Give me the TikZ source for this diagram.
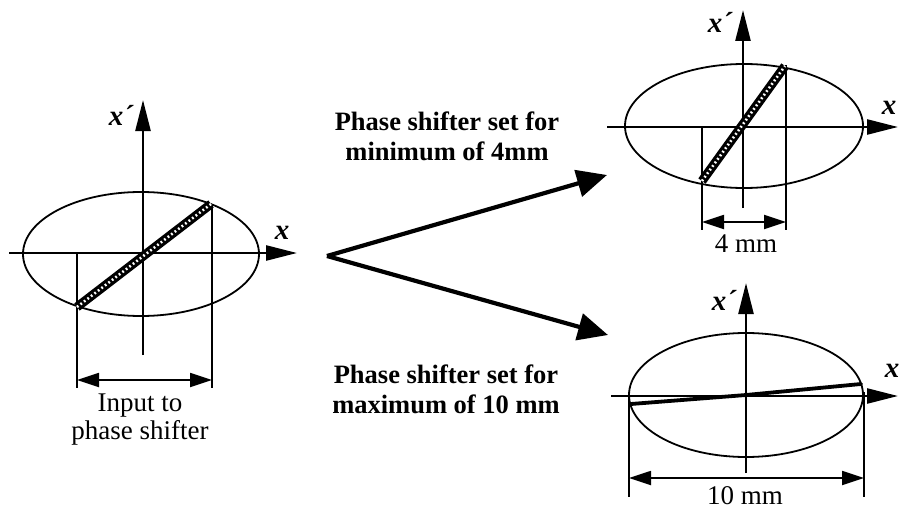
\documentclass[tikz,border=0pt]{standalone}
\usepackage{fontspec}
\setmainfont{Liberation Serif}
\usetikzlibrary{arrows.meta}
\tikzset{
  axis/.style={line width=2.5pt,-{Triangle[length=31pt,width=15pt]}},
  ell/.style={line width=1.8pt},
  proj/.style={line width=1.3pt},
  dim/.style={line width=1.8pt,{Triangle[length=22pt,width=14pt]}-{Triangle[length=22pt,width=14pt]}},
  bigarrow/.style={line width=4.2pt,-{Triangle[length=30pt,width=27pt]}},
  barblack/.style={line width=9pt},
  barwhite/.style={line width=2.6pt,white,dash pattern=on 1.8pt off 2.6pt},
  axlabel/.style={font=\fontsize{29}{30}\selectfont\bfseries\itshape,inner sep=0pt},
  boldtxt/.style={font=\fontsize{26.5}{30.5}\selectfont\bfseries,align=center,inner sep=0pt},
  plaintxt/.style={font=\fontsize{27}{27.5}\selectfont,align=center,inner sep=0pt},
}
\begin{document}
\begin{tikzpicture}[x=1pt,y=-1pt]
\useasboundingbox (0,0) rectangle (900,511);
% ---------- left diagram ----------
\coordinate (Lvb) at (143,355);
\coordinate (Lvt) at (143,100);
\coordinate (Lhl) at (9,253);
\coordinate (Lhr) at (297,253);
\coordinate (Lc) at (141,254);
\coordinate (La) at (77,307);
\coordinate (Lb) at (211,204);
\coordinate (Lpa) at (77,253);
\coordinate (Lpb) at (77,388);
\coordinate (Lqa) at (212,204);
\coordinate (Lqb) at (212,388);
\coordinate (Lda) at (77,380);
\coordinate (Ldb) at (212,380);
\draw[ell] (Lc) ellipse [x radius=118, y radius=62];
\draw[axis] (Lvb) -- (Lvt);
\draw[axis] (Lhl) -- (Lhr);
\draw[proj] (Lpa) -- (Lpb);
\draw[proj] (Lqa) -- (Lqb);
\draw[dim] (Lda) -- (Ldb);
\draw[barblack] (La) -- (Lb);
\draw[barwhite] (La) -- (Lb);
\node[axlabel] (Lxp) at (121,115) {x´};
\node[axlabel] (Lx) at (282,233) {x};
\node[plaintxt] (Lin) at (140,419.5) {Input to\\phase shifter};
% ---------- middle ----------
\coordinate (V) at (327,256);
\coordinate (T1) at (607,175);
\coordinate (T2) at (608,335);
\draw[bigarrow] (V) -- (T1);
\draw[bigarrow] (V) -- (T2);
\node[boldtxt] (Ttop) at (447,136.5) {Phase shifter set for\\minimum of 4mm};
\node[boldtxt] (Tbot) at (446,389.5) {Phase shifter set for\\maximum of 10 mm};
% ---------- top right ----------
\coordinate (Avb) at (743,208);
\coordinate (Avt) at (743,10);
\coordinate (Ahl) at (607,127);
\coordinate (Ahr) at (898,127);
\coordinate (Ac) at (744,126);
\coordinate (Aa) at (702,181);
\coordinate (Ab) at (785,66);
\coordinate (Apa) at (702,127);
\coordinate (Apb) at (702,230);
\coordinate (Aqa) at (786,65);
\coordinate (Aqb) at (786,230);
\coordinate (Ada) at (702,222);
\coordinate (Adb) at (786,222);
\draw[ell] (Ac) ellipse [x radius=119, y radius=62];
\draw[axis] (Avb) -- (Avt);
\draw[axis] (Ahl) -- (Ahr);
\draw[proj] (Apa) -- (Apb);
\draw[proj] (Aqa) -- (Aqb);
\draw[dim] (Ada) -- (Adb);
\draw[barblack] (Aa) -- (Ab);
\draw[barwhite] (Aa) -- (Ab);
\node[axlabel] (Axp) at (720,22) {x´};
\node[axlabel] (Ax) at (889,108) {x};
\node[plaintxt] (A4) at (746,244) {4 mm};
% ---------- bottom right ----------
\coordinate (Bvb) at (746,473);
\coordinate (Bvt) at (746,283);
\coordinate (Bhl) at (611,396);
\coordinate (Bhr) at (898,396);
\coordinate (Bc) at (746,395);
\coordinate (Ba) at (631,404);
\coordinate (Bm) at (746,395);
\coordinate (Bb) at (861,384);
\coordinate (Bpa) at (629,396);
\coordinate (Bpb) at (629,497);
\coordinate (Bqa) at (864,392);
\coordinate (Bqb) at (864,497);
\coordinate (Bda) at (629,478);
\coordinate (Bdb) at (864,478);
\draw[ell] (Bc) ellipse [x radius=117, y radius=62];
\draw[axis] (Bvb) -- (Bvt);
\draw[axis] (Bhl) -- (Bhr);
\draw[proj] (Bpa) -- (Bpb);
\draw[proj] (Bqa) -- (Bqb);
\draw[dim] (Bda) -- (Bdb);
\draw[line width=3.8pt,line cap=round] (Ba) -- (Bm) -- (Bb);
\node[axlabel] (Bxp) at (724,300) {x´};
\node[axlabel] (Bx) at (892,371) {x};
\node[plaintxt] (B10) at (745,495.5) {10 mm};
\end{tikzpicture}
\end{document}
